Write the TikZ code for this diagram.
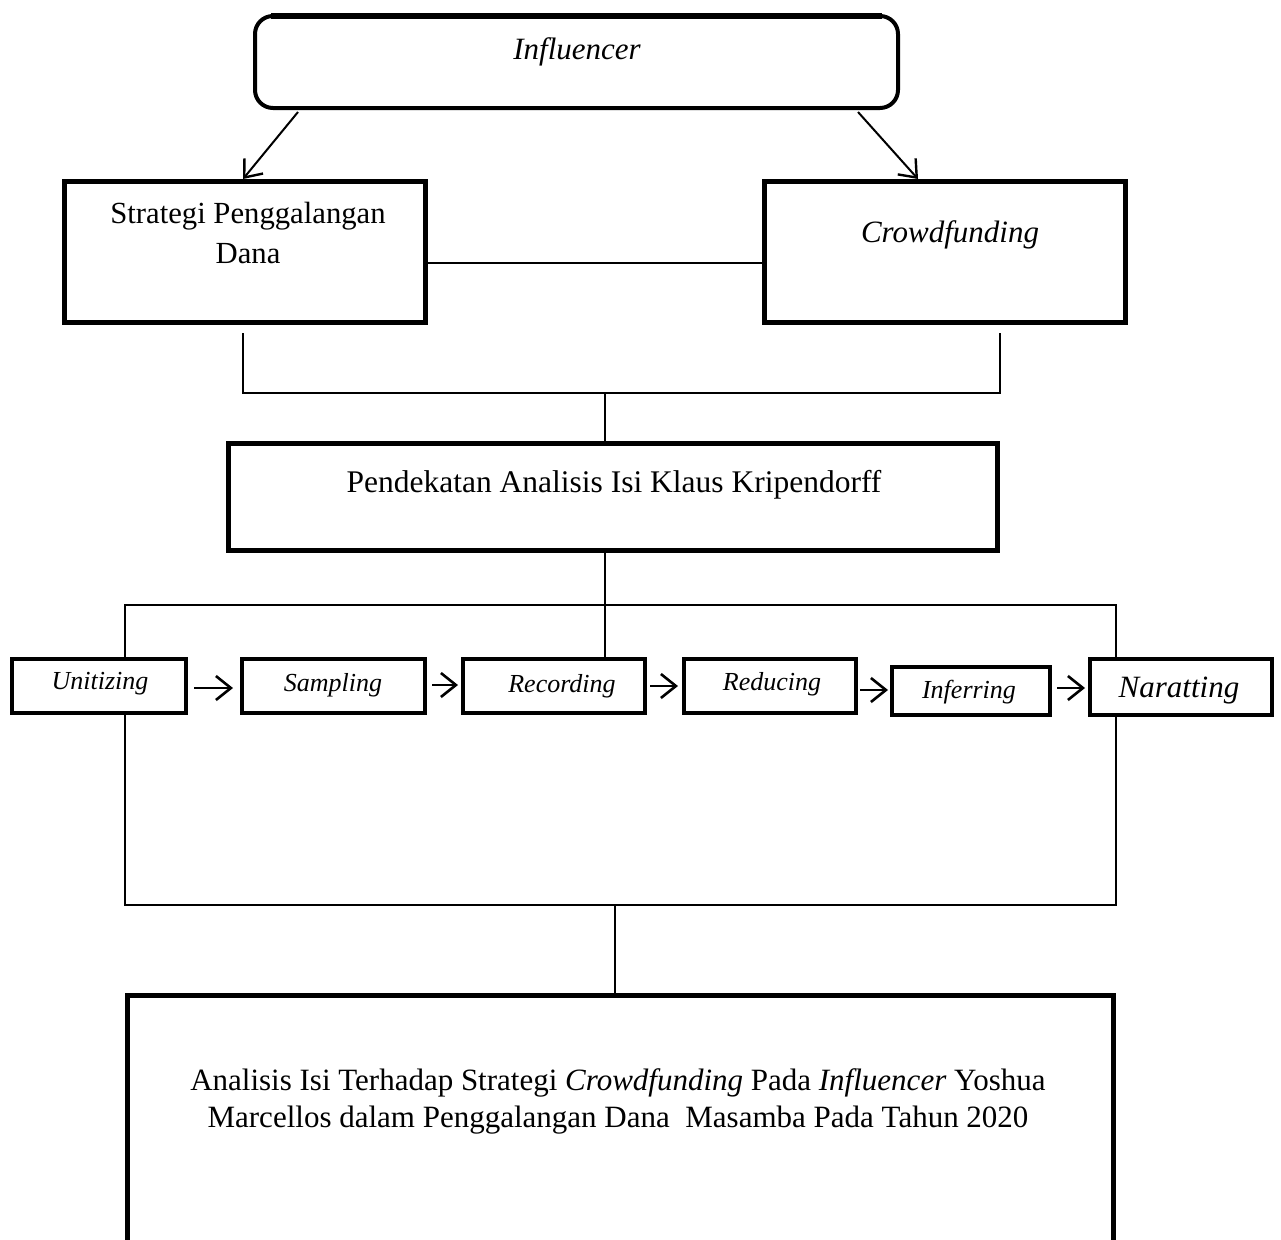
\documentclass[tikz,border=0pt]{standalone}
\usepackage{fontspec}
\setmainfont{Liberation Serif}
\usetikzlibrary{arrows.meta,calc}
\begin{document}
\begin{tikzpicture}[x=1pt,y=-1pt,
  bigbox/.style={draw, line width=5pt, inner sep=0pt},
  smallbox/.style={draw, line width=4pt, inner sep=0pt},
  ln/.style={line width=1.5pt},
  arr/.style={line width=2.2pt, -{Straight Barb[length=15pt,width=24pt,line width=2.6pt]}},
  toparr/.style={line width=2pt, -{Straight Barb[length=15pt,width=24pt,line width=2.4pt]}},
  txt/.style={inner sep=0pt, align=center},
  smallfont/.style={font=\fontsize{26}{30}\selectfont\itshape}
]
\useasboundingbox (0,0) rectangle (1281,1239);

% boxes
\node[draw, line width=4pt, rounded corners=18pt, minimum width=643pt, minimum height=92pt] (infl) at (576.5,62) {};
\draw[line width=5.5pt] ([xshift=18pt,yshift=-2.2pt]infl.north west) -- ([xshift=-18pt,yshift=-2.2pt]infl.north east);
\node[bigbox, minimum width=361pt, minimum height=141pt] (strat) at (245,252) {};
\node[bigbox, minimum width=361pt, minimum height=141pt] (crowd) at (945,252) {};
\node[bigbox, minimum width=769pt, minimum height=107pt] (pend) at (613,497) {};
\node[smallbox, minimum width=174pt, minimum height=54pt] (unit) at (99,686) {};
\node[smallbox, minimum width=183pt, minimum height=54pt] (samp) at (333.5,686) {};
\node[smallbox, minimum width=182pt, minimum height=54pt] (rec) at (554,686) {};
\node[smallbox, minimum width=172pt, minimum height=54pt] (red) at (770,686) {};
\node[smallbox, minimum width=158pt, minimum height=48pt] (inf) at (971,691) {};
\node[smallbox, minimum width=182pt, minimum height=56pt] (nar) at (1181,687) {};
\node[bigbox, minimum width=986pt, minimum height=295pt] (fin) at (620.5,1143) {};

% texts
\node[txt, font=\fontsize{31}{37}\selectfont\itshape] (inflt) at (577,52) {Influencer};
\node[txt, font=\fontsize{30.7}{40}\selectfont] (stratt) at (248,233) {Strategi Penggalangan\\Dana};
\node[txt, font=\fontsize{31}{37}\selectfont\itshape] (crowdt) at (950,235) {Crowdfunding};
\node[txt, font=\fontsize{31.5}{37}\selectfont] (pendt) at (614,485) {Pendekatan Analisis Isi Klaus Kripendorff};
\node[txt, smallfont] (unitt) at (100,684) {Unitizing};
\node[txt, smallfont] (sampt) at (333,685) {Sampling};
\node[txt, smallfont] (rect) at (562,686) {Recording};
\node[txt, smallfont] (redt) at (772,684) {Reducing};
\node[txt, smallfont] (inft) at (969,692) {Inferring};
\node[txt, font=\fontsize{31}{37}\selectfont\itshape] (nart) at (1179,691) {Naratting};
\node[txt, font=\fontsize{31}{37}\selectfont] (fint) at (618,1101) {Analisis Isi Terhadap Strategi \textit{Crowdfunding} Pada \textit{Influencer} Yoshua\\Marcellos dalam Penggalangan Dana\ \ Masamba Pada Tahun 2020};

% top arrows
\draw[toparr] ([xshift=45pt,yshift=-2pt]infl.south west) -- ([xshift=-2pt]strat.north);
\draw[toparr] ([xshift=-42pt,yshift=-2pt]infl.south east) -- ([xshift=-27pt]crowd.north);
\draw[ln] ([yshift=-11pt]strat.east) -- ([yshift=-11pt]crowd.west);

% bracket 1
\coordinate (b1a) at (243,333);
\coordinate (b1b) at (1000,333);
\coordinate (b1m) at (605,393);
\draw[ln] (b1a) |- (b1m) -| (b1b);
\draw[ln] (b1m) -- (b1m |- pend.north);

% bracket 2
\coordinate (b2m) at (605,605);
\coordinate (b2l) at (125,605);
\coordinate (b2r) at (1116,605);
\draw[ln] (b2m |- pend.south) -- (b2m |- rec.north);
\draw[ln] (b2l |- unit.north) |- (b2r) -- (b2r |- nar.north);

% row arrows
\draw[arr] ([xshift=6pt,yshift=-2pt]unit.east) -- ([xshift=-7pt,yshift=-2pt]samp.west);
\draw[arr] ([xshift=5pt,yshift=1pt]samp.east) -- ([xshift=-3pt,yshift=1pt]rec.west);
\draw[arr] ([xshift=3pt]rec.east) -- ([xshift=-4pt]red.west);
\draw[arr] ([xshift=2pt,yshift=-4pt]red.east) -- ([xshift=-2pt,yshift=1pt]inf.west);
\draw[arr] ([xshift=5pt,yshift=3pt]inf.east) -- ([xshift=-3pt,yshift=-1pt]nar.west);

% bracket 3
\coordinate (b3l) at (125,905);
\coordinate (b3r) at (1116,905);
\coordinate (b3m) at (615,905);
\draw[ln] (b3l |- unit.south) -- (b3l) -- (b3r) -- (b3r |- nar.south);
\draw[ln] (b3m) -- (b3m |- fin.north);
\end{tikzpicture}
\end{document}
